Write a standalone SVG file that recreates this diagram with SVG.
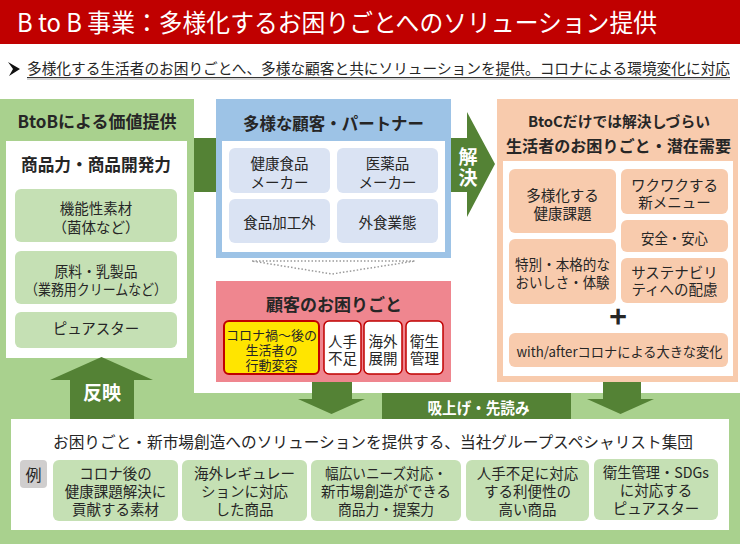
<svg xmlns="http://www.w3.org/2000/svg" width="740" height="544" viewBox="0 0 740 544">
<style>
.t{font-family:"Noto Sans CJK JP","Noto Sans",sans-serif;fill:#262626;}
.b{font-weight:700;}
.c{text-anchor:middle;}
.w{fill:#ffffff;}
.s13{font-size:13px;}
.s14{font-size:14.5px;}
.s17{font-size:17px;}
.lg{fill:#c5e0b4;}
.lb{fill:#dae3f3;}
.or{fill:#f8cbad;}
.dg{fill:#548235;}
</style>
<rect x="0" y="0" width="740" height="544" fill="#ffffff"/>
<g id="header">
<rect x="0" y="0" width="740" height="44" fill="#c00000"/>
<text class="t w" x="17" y="32" font-size="25" textLength="640" lengthAdjust="spacingAndGlyphs">B to B 事業：多様化するお困りごとへのソリューション提供</text>
</g>
<g id="intro">
<polygon points="8,62 20,69 9,76 13,69" fill="#111"/>
<text class="t" x="27" y="74" font-size="14.6" textLength="703" lengthAdjust="spacingAndGlyphs">多様化する生活者のお困りごとへ、多様な顧客と共にソリューションを提供。コロナによる環境変化に対応</text>
<line x1="27" y1="77.5" x2="730" y2="77.5" stroke="#333" stroke-width="1"/>
<line x1="27" y1="79" x2="730" y2="79" stroke="#aaa" stroke-width="1.2"/>
</g>
<g id="background">
<rect x="0" y="99" width="194" height="294" fill="#a9d18e"/>
<rect x="0" y="393" width="740" height="151" fill="#a9d18e"/>
</g>
<g id="node-btob">
<text class="t b c s17" x="97" y="128">BtoBによる価値提供</text>
<rect x="6" y="141" width="181" height="217" fill="#fff"/>
<text class="t b c s17" x="96" y="171" textLength="150" lengthAdjust="spacingAndGlyphs">商品力・商品開発力</text>
<rect class="lg" x="15" y="189" width="162" height="53" rx="6"/>
<text class="t c s14" x="96" y="214">機能性素材</text>
<text class="t c s14" x="96" y="233">（菌体など）</text>
<rect class="lg" x="15" y="251" width="162" height="53" rx="6"/>
<text class="t c s14" x="96" y="277" textLength="83" lengthAdjust="spacingAndGlyphs">原料・乳製品</text>
<text class="t c s14" x="96" y="295" textLength="142" lengthAdjust="spacingAndGlyphs">（業務用クリームなど）</text>
<rect class="lg" x="15" y="312" width="162" height="36" rx="6"/>
<text class="t c s14" x="96" y="334">ピュアスター</text>
</g>
<g id="node-customers">
<rect x="216" y="99" width="235" height="159" fill="#9dc3e6"/>
<text class="t b c s17" x="333.5" y="130" textLength="181" lengthAdjust="spacingAndGlyphs">多様な顧客・パートナー</text>
<rect x="222" y="141" width="223" height="111" fill="#fff"/>
<rect class="lb" x="229" y="148" width="101" height="45" rx="6"/>
<rect class="lb" x="337" y="148" width="101" height="45" rx="6"/>
<rect class="lb" x="229" y="199" width="101" height="44" rx="6"/>
<rect class="lb" x="337" y="199" width="101" height="44" rx="6"/>
<text class="t c s14" x="279.5" y="169">健康食品</text>
<text class="t c s14" x="279.5" y="188">メーカー</text>
<text class="t c s14" x="387.5" y="169">医薬品</text>
<text class="t c s14" x="387.5" y="188">メーカー</text>
<text class="t c s14" x="279.5" y="228">食品加工外</text>
<text class="t c s14" x="387.5" y="228">外食業態</text>
</g>
<g id="node-troubles">
<rect x="216" y="281" width="235" height="101" fill="#ef868f"/>
<text class="t b c s17" x="334" y="311">顧客のお困りごと</text>
<rect x="224" y="321" width="95" height="53" rx="5" fill="#ffe500" stroke="#c00000" stroke-width="2"/>
<text class="t c s13" x="271.5" y="340">コロナ禍～後の</text>
<text class="t c s13" x="271.5" y="355">生活者の</text>
<text class="t c s13" x="271.5" y="370">行動変容</text>
<rect x="324" y="321" width="37" height="53" rx="5" fill="#fff" stroke="#c00000" stroke-width="1.5"/>
<rect x="364" y="321" width="38" height="53" rx="5" fill="#fff" stroke="#c00000" stroke-width="1.5"/>
<rect x="406" y="321" width="37" height="53" rx="5" fill="#fff" stroke="#c00000" stroke-width="1.5"/>
<text class="t c s14" x="342.5" y="347">人手</text>
<text class="t c s14" x="342.5" y="364">不足</text>
<text class="t c s14" x="383" y="347">海外</text>
<text class="t c s14" x="383" y="364">展開</text>
<text class="t c s14" x="424.5" y="347">衛生</text>
<text class="t c s14" x="424.5" y="364">管理</text>
</g>
<g id="node-btoc">
<rect x="497" y="99" width="241" height="283" fill="#f8cbad"/>
<text class="t b c" x="619" y="127" font-size="14.5" textLength="182" lengthAdjust="spacingAndGlyphs">BtoCだけでは解決しづらい</text>
<text class="t b c" x="618.5" y="152" font-size="16" textLength="225" lengthAdjust="spacingAndGlyphs">生活者のお困りごと・潜在需要</text>
<rect x="503" y="161" width="230" height="215" fill="#fff"/>
<rect class="or" x="509" y="169" width="107" height="64" rx="6"/>
<rect class="or" x="509" y="239" width="107" height="65" rx="6"/>
<rect class="or" x="621" y="169" width="107" height="45" rx="6"/>
<rect class="or" x="621" y="220" width="107" height="32" rx="6"/>
<rect class="or" x="621" y="258" width="107" height="45" rx="6"/>
<rect class="or" x="509" y="333" width="219" height="34" rx="6"/>
<text class="t c s14" x="562.5" y="201">多様化する</text>
<text class="t c s14" x="562.5" y="219">健康課題</text>
<text class="t c s14" x="562.5" y="270" textLength="95" lengthAdjust="spacingAndGlyphs">特別・本格的な</text>
<text class="t c s14" x="562.5" y="288" textLength="94" lengthAdjust="spacingAndGlyphs">おいしさ・体験</text>
<text class="t c s14" x="674.5" y="191">ワクワクする</text>
<text class="t c s14" x="674.5" y="208">新メニュー</text>
<text class="t c s14" x="674.5" y="244" textLength="67" lengthAdjust="spacingAndGlyphs">安全・安心</text>
<text class="t c s14" x="674.5" y="278">サステナビリ</text>
<text class="t c s14" x="674.5" y="295">ティへの配慮</text>
<text class="t b c" x="618" y="328" font-size="30" fill="#000">+</text>
<text class="t c" x="619.5" y="357" font-size="13.5" textLength="206" lengthAdjust="spacingAndGlyphs">with/afterコロナによる大きな変化</text>
</g>
<g id="node-specialists">
<rect x="11" y="419" width="718" height="111" fill="#fff"/>
<text class="t" x="53" y="448" font-size="15.5" textLength="640" lengthAdjust="spacingAndGlyphs">お困りごと・新市場創造へのソリューションを提供する、当社グループスペシャリスト集団</text>
<rect x="20" y="460" width="27" height="28" rx="4" fill="#d0cece"/>
<text class="t c" x="33.5" y="481" font-size="16">例</text>
<rect class="lg" x="53" y="460" width="125" height="61" rx="6"/>
<rect class="lg" x="182" y="460" width="125" height="61" rx="6"/>
<rect class="lg" x="311" y="460" width="150" height="61" rx="6"/>
<rect class="lg" x="466" y="460" width="123" height="61" rx="6"/>
<rect class="lg" x="594" y="459" width="124" height="61" rx="6"/>
<text class="t c s14" x="115.5" y="479">コロナ後の</text>
<text class="t c s14" x="115.5" y="497">健康課題解決に</text>
<text class="t c s14" x="115.5" y="515">貢献する素材</text>
<text class="t c s14" x="244.5" y="479">海外レギュレー</text>
<text class="t c s14" x="244.5" y="497">ションに対応</text>
<text class="t c s14" x="244.5" y="515">した商品</text>
<text class="t c s14" x="386" y="479" textLength="122" lengthAdjust="spacingAndGlyphs">幅広いニーズ対応・</text>
<text class="t c s14" x="386" y="497">新市場創造ができる</text>
<text class="t c s14" x="386" y="515" textLength="96" lengthAdjust="spacingAndGlyphs">商品力・提案力</text>
<text class="t c s14" x="527.5" y="479">人手不足に対応</text>
<text class="t c s14" x="527.5" y="497">する利便性の</text>
<text class="t c s14" x="527.5" y="515">高い商品</text>
<text class="t c s14" x="656" y="478" textLength="106" lengthAdjust="spacingAndGlyphs">衛生管理・SDGs</text>
<text class="t c s14" x="656" y="496">に対応する</text>
<text class="t c s14" x="656" y="514">ピュアスター</text>
</g>
<g id="connectors">
<rect class="dg" x="194" y="138" width="22" height="54"/>
<polygon class="dg" points="451,138 467,138 467,112 495,164 467,217 467,192 451,192"/>
<text class="t b c w" x="468" y="164" font-size="19">解</text>
<text class="t b c w" x="468" y="185" font-size="19">決</text>
<polygon class="dg" points="70,419 70,380 50,380 101.5,357 153,380 134,380 134,419"/>
<text class="t b c w" x="102" y="400" font-size="19">反映</text>
<polygon class="dg" points="312,382 352,382 352,399 365,399 331.5,414 298,399 312,399"/>
<polygon class="dg" points="603,382 641,382 641,399 654,399 620.5,414 587,399 603,399"/>
<rect class="dg" x="382" y="393" width="189" height="26"/>
<text class="t b c w" x="478.5" y="414" font-size="15.5" textLength="102" lengthAdjust="spacingAndGlyphs">吸上げ・先読み</text>
<polyline points="252,261 415,261 332,274 252,261" fill="none" stroke="#9a9a9a" stroke-width="1.5" stroke-dasharray="1.5 2"/>
</g>
</svg>
